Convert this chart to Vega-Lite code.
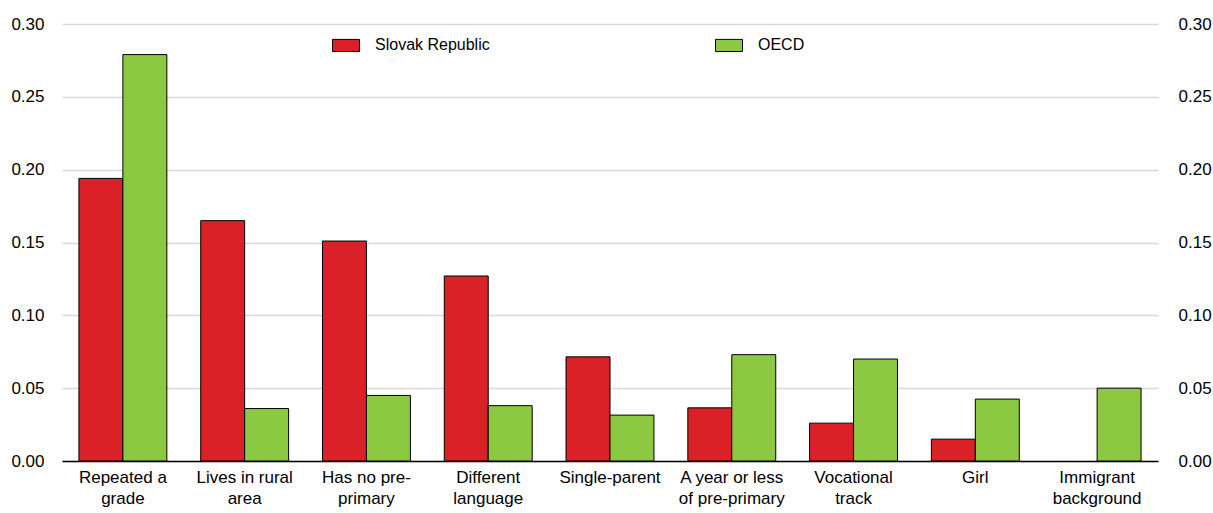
{
  "$schema": "https://vega.github.io/schema/vega-lite/v6.json",
  "autosize": "none",
  "width": 1096,
  "height": 437,
  "padding": {"left": 62, "top": 24, "right": 55, "bottom": 52},
  "config": {
    "font": "Liberation Sans",
    "view": {"stroke": null},
    "axis": {"labelColor": "#000000", "labelFontSize": 17, "ticks": false, "title": null}
  },
  "data": {
    "values": [
      {"category": "Repeated a grade", "series": "Slovak Republic", "value": 0.194},
      {"category": "Repeated a grade", "series": "OECD", "value": 0.279},
      {"category": "Lives in rural area", "series": "Slovak Republic", "value": 0.165},
      {"category": "Lives in rural area", "series": "OECD", "value": 0.036},
      {"category": "Has no pre-primary", "series": "Slovak Republic", "value": 0.151},
      {"category": "Has no pre-primary", "series": "OECD", "value": 0.045},
      {"category": "Different language", "series": "Slovak Republic", "value": 0.127},
      {"category": "Different language", "series": "OECD", "value": 0.038},
      {"category": "Single-parent", "series": "Slovak Republic", "value": 0.0715},
      {"category": "Single-parent", "series": "OECD", "value": 0.0315},
      {"category": "A year or less of pre-primary", "series": "Slovak Republic", "value": 0.0365},
      {"category": "A year or less of pre-primary", "series": "OECD", "value": 0.073},
      {"category": "Vocational track", "series": "Slovak Republic", "value": 0.026},
      {"category": "Vocational track", "series": "OECD", "value": 0.070},
      {"category": "Girl", "series": "Slovak Republic", "value": 0.015},
      {"category": "Girl", "series": "OECD", "value": 0.0425},
      {"category": "Immigrant background", "series": "OECD", "value": 0.050}
    ]
  },
  "encoding": {
    "x": {
      "field": "category",
      "type": "nominal",
      "sort": null,
      "scale": {"paddingInner": 0.278, "paddingOuter": 0.139},
      "axis": {
        "labelAngle": 0,
        "labelPadding": 8,
        "labelLineHeight": 21,
        "labelBaseline": "top",
        "domainColor": "#000000",
        "domainWidth": 1.5,
        "labelExpr": "datum.value == 'Repeated a grade' ? ['Repeated a', 'grade'] : datum.value == 'Lives in rural area' ? ['Lives in rural', 'area'] : datum.value == 'Has no pre-primary' ? ['Has no pre-', 'primary'] : datum.value == 'Different language' ? ['Different', 'language'] : datum.value == 'A year or less of pre-primary' ? ['A year or less', 'of pre-primary'] : datum.value == 'Vocational track' ? ['Vocational', 'track'] : datum.value == 'Immigrant background' ? ['Immigrant', 'background'] : datum.value"
      }
    },
    "xOffset": {
      "field": "series",
      "type": "nominal",
      "sort": ["Slovak Republic", "OECD"],
      "scale": {"domain": ["Slovak Republic", "OECD"], "paddingInner": 0, "paddingOuter": 0}
    }
  },
  "layer": [
    {
      "mark": {"type": "bar", "stroke": "#000000", "strokeWidth": 1},
      "encoding": {
        "y": {
          "field": "value",
          "type": "quantitative",
          "scale": {"domain": [0, 0.3], "nice": false},
          "axis": {
            "orient": "left",
            "values": [0, 0.05, 0.1, 0.15, 0.2, 0.25, 0.3],
            "format": ".2f",
            "domain": false,
            "labelPadding": 18,
            "gridColor": "#d9d9d9",
            "gridWidth": 1.5
          }
        },
        "color": {
          "field": "series",
          "type": "nominal",
          "scale": {"domain": ["Slovak Republic", "OECD"], "range": ["#DA2128", "#8CC841"]},
          "legend": {
            "title": null,
            "orient": "none",
            "legendX": 270,
            "legendY": 7,
            "direction": "horizontal",
            "columns": 2,
            "columnPadding": 223,
            "padding": 0,
            "labelFontSize": 16,
            "labelColor": "#000000",
            "labelOffset": 15,
            "symbolType": "M-1,-0.45H1V0.45H-1Z",
            "symbolSize": 729,
            "symbolStrokeColor": "#000000",
            "symbolStrokeWidth": 1,
            "symbolOpacity": 1
          }
        }
      }
    },
    {
      "mark": {"type": "bar", "opacity": 0},
      "encoding": {
        "y": {
          "field": "value",
          "type": "quantitative",
          "scale": {"domain": [0, 0.3], "nice": false},
          "axis": {
            "orient": "right",
            "values": [0, 0.05, 0.1, 0.15, 0.2, 0.25, 0.3],
            "format": ".2f",
            "domain": false,
            "grid": false,
            "labelPadding": 20
          }
        }
      }
    }
  ],
  "resolve": {"scale": {"y": "independent"}}
}
